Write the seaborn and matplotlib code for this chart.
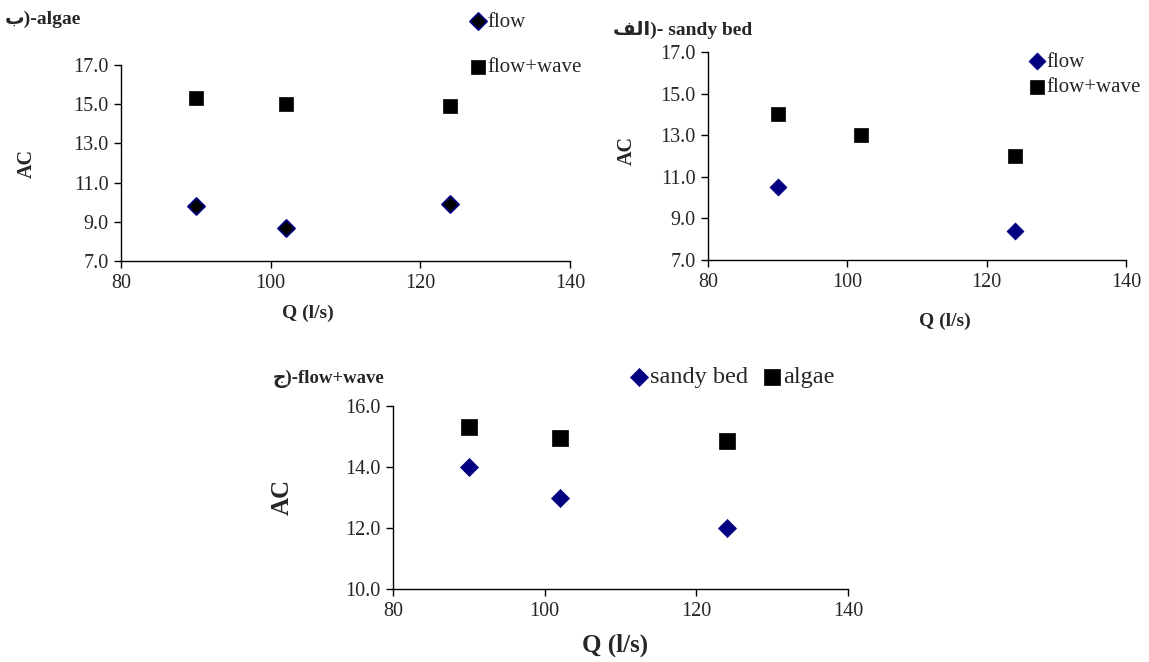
import pandas as pd
import matplotlib
matplotlib.use("Agg")
import matplotlib.pyplot as plt
import seaborn as sns

# data
q_algae = [90, 102, 124]
algae_flow = [9.8, 8.7, 9.9]
algae_wave = [15.3, 15.0, 14.9]

q_sandy_flow = [90, 124]
sandy_flow = [10.5, 8.4]
q_sandy_wave = [90, 102, 124]
sandy_wave = [14.0, 13.0, 12.0]

q_fw = [90, 102, 124]
fw_sandy = [14.0, 13.0, 12.0]
fw_algae = [15.3, 14.95, 14.85]

sns.set_style("white")
plt.rcParams['font.family'] = ['Liberation Serif', 'DejaVu Sans']

NAVY = "#000080"
W, H = 1149, 662
fig = plt.figure(figsize=(W / 100, H / 100), dpi=100)


def box(l, t, r, b):
    return [l / W, 1 - b / H, (r - l) / W, (b - t) / H]


def style_axes(ax, ylim, yticks):
    ax.set_xlim(80, 140)
    ax.set_xticks([80, 100, 120, 140])
    ax.set_ylim(*ylim)
    ax.set_yticks(yticks)
    ax.yaxis.set_major_formatter(matplotlib.ticker.FormatStrFormatter('%.1f'))
    for s in ["top", "right"]:
        ax.spines[s].set_visible(False)
    for s in ["left", "bottom"]:
        ax.spines[s].set_color("#000000")
        ax.spines[s].set_linewidth(1.0)
    ax.tick_params(axis="both", direction="out", length=5, width=1, color="black",
                   labelsize=14.5, left=True, bottom=True, pad=4)
    ax.set_xlabel("")
    ax.set_ylabel("")


def legend(ax, x, y, ncol=1, spacing=0.5, colsp=1.0, size=15):
    h, l = ax.get_legend_handles_labels()
    ax.legend(h, l, loc="upper left", bbox_to_anchor=(x / W, 1 - y / H),
              bbox_transform=fig.transFigure, frameon=False, ncol=ncol,
              labelspacing=spacing, handletextpad=0.05, handlelength=0.8,
              borderpad=0, borderaxespad=0, columnspacing=colsp,
              prop={"size": size})


# (b) algae
ax1 = fig.add_axes(box(121, 65, 570, 261))
d1 = pd.DataFrame({"Q": q_algae, "flow": algae_flow, "wave": algae_wave})
sns.scatterplot(data=d1, x="Q", y="flow", ax=ax1, marker="D", s=75,
                color="black", edgecolor=NAVY, linewidth=1.3, label="flow")
sns.scatterplot(data=d1, x="Q", y="wave", ax=ax1, marker="s", s=110,
                color="black", edgecolor="black", linewidth=0.5, label="flow+wave")
style_axes(ax1, (7, 17), [7, 9, 11, 13, 15, 17])
legend(ax1, 470, 12, spacing=1.25)
fig.text(5 / W, 1 - 19 / H, "\u0628)-algae", fontsize=14, fontweight="bold",
         va="center", ha="left")
fig.text(27 / W, 1 - 163 / H, "AC", fontsize=14.5, fontweight="bold",
         rotation=90, va="center", ha="center")
fig.text(308 / W, 1 - 313 / H, "Q (l/s)", fontsize=14, fontweight="bold",
         va="center", ha="center")

# (alef) sandy bed
ax2 = fig.add_axes(box(708, 52, 1126, 260))
d2a = pd.DataFrame({"Q": q_sandy_flow, "flow": sandy_flow})
d2b = pd.DataFrame({"Q": q_sandy_wave, "wave": sandy_wave})
sns.scatterplot(data=d2a, x="Q", y="flow", ax=ax2, marker="D", s=75,
                color=NAVY, edgecolor=NAVY, linewidth=0.5, label="flow")
sns.scatterplot(data=d2b, x="Q", y="wave", ax=ax2, marker="s", s=110,
                color="black", edgecolor="black", linewidth=0.5, label="flow+wave")
style_axes(ax2, (7, 17), [7, 9, 11, 13, 15, 17])
legend(ax2, 1029, 52, spacing=0.3)
fig.text(613 / W, 1 - 30 / H, "\uFED2\uFEDF\uFE8D)- sandy bed", fontsize=14,
         fontweight="bold", va="center", ha="left")
fig.text(627 / W, 1 - 150 / H, "AC", fontsize=14.5, fontweight="bold",
         rotation=90, va="center", ha="center")
fig.text(945 / W, 1 - 321 / H, "Q (l/s)", fontsize=14, fontweight="bold",
         va="center", ha="center")

# (jim) flow+wave
ax3 = fig.add_axes(box(393, 406, 848, 589))
d3 = pd.DataFrame({"Q": q_fw, "sandy": fw_sandy, "algae": fw_algae})
sns.scatterplot(data=d3, x="Q", y="sandy", ax=ax3, marker="D", s=85,
                color=NAVY, edgecolor=NAVY, linewidth=0.5, label="sandy bed")
sns.scatterplot(data=d3, x="Q", y="algae", ax=ax3, marker="s", s=120,
                color="black", edgecolor="black", linewidth=0.5, label="algae")
style_axes(ax3, (10, 16), [10, 12, 14, 16])
legend(ax3, 629, 366, ncol=2, colsp=0.6, size=17.5)
fig.text(273 / W, 1 - 379 / H, "\u062C)-flow+wave", fontsize=13.5, fontweight="bold",
         va="center", ha="left")
fig.text(282 / W, 1 - 497 / H, "AC", fontsize=18, fontweight="bold",
         rotation=90, va="center", ha="center")
fig.text(615 / W, 1 - 645 / H, "Q (l/s)", fontsize=18, fontweight="bold",
         va="center", ha="center")

fig.savefig("out.png", dpi=100, facecolor="white")
